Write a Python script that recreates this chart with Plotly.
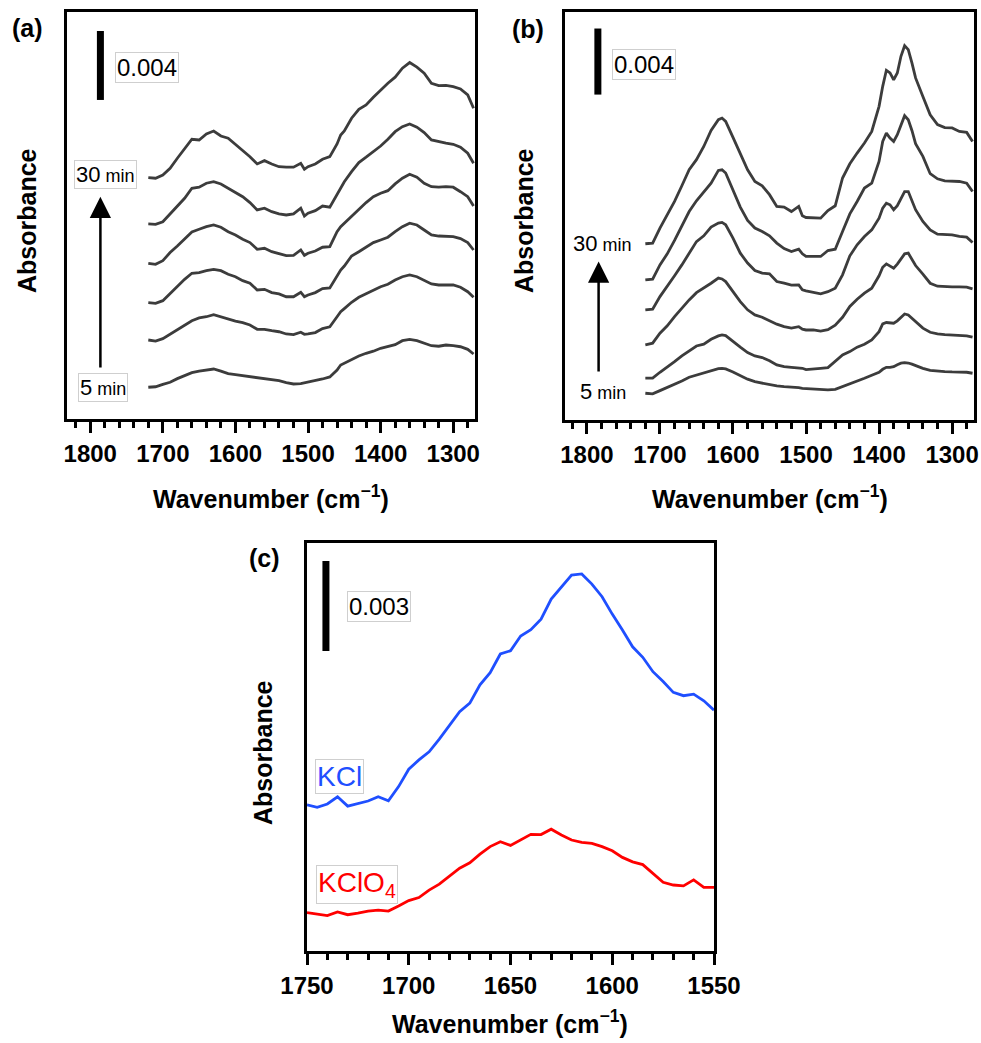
import plotly.graph_objects as go

# ---------------- data (absorbance in units of 1e-3) ----------------
wn_a = [1720, 1710, 1700, 1690, 1680, 1670, 1660, 1650, 1640, 1630, 1620, 1610, 1600, 1590, 1580,
        1570, 1560, 1550, 1540, 1530, 1520, 1510, 1505, 1500, 1490, 1480, 1470, 1460, 1455, 1450,
        1440, 1430, 1420, 1410, 1400, 1390, 1380, 1370, 1360, 1350, 1340, 1330, 1320, 1310, 1300,
        1290, 1280, 1272]
a_30min = [14.0, 13.96, 14.15, 14.54, 15.12, 15.64, 16.22, 16.18, 16.53, 16.70, 16.41, 16.28, 15.93, 15.60, 15.21,
           14.79, 14.98, 14.79, 14.63, 14.60, 14.60, 14.83, 14.48, 14.63, 14.79, 15.06, 15.21, 15.95, 16.47, 16.70,
           17.44, 17.96, 18.21, 18.66, 19.08, 19.47, 19.82, 20.34, 20.67, 20.40, 20.05, 19.47, 19.33, 19.35, 19.27,
           19.14, 18.79, 18.02]
a_25min = [11.31, 11.29, 11.44, 11.89, 12.35, 12.80, 13.38, 13.44, 13.67, 13.76, 13.63, 13.38, 13.18, 12.89, 12.55,
           12.12, 12.22, 12.02, 11.89, 11.83, 11.89, 12.22, 11.77, 11.93, 12.08, 12.35, 12.28, 13.05, 13.38, 13.76,
           14.34, 14.87, 15.18, 15.50, 15.83, 16.22, 16.66, 16.95, 17.11, 16.92, 16.61, 16.18, 16.07, 15.99, 15.93,
           15.76, 15.41, 14.83]
a_20min = [9.03, 8.97, 9.18, 9.65, 10.03, 10.42, 10.85, 11.00, 11.15, 11.25, 11.12, 10.86, 10.67, 10.42, 10.23,
           9.84, 9.90, 9.70, 9.57, 9.47, 9.49, 9.80, 9.49, 9.61, 9.74, 9.96, 9.99, 10.86, 11.15, 11.35,
           11.77, 12.18, 12.55, 12.89, 13.09, 13.24, 13.63, 13.96, 14.19, 14.02, 13.67, 13.47, 13.44, 13.47, 13.44,
           13.18, 12.89, 12.35]
a_15min = [6.75, 6.71, 6.86, 7.29, 7.67, 8.10, 8.45, 8.49, 8.60, 8.68, 8.60, 8.39, 8.25, 8.02, 7.87,
           7.48, 7.52, 7.33, 7.25, 7.09, 7.09, 7.35, 7.09, 7.19, 7.33, 7.56, 7.60, 8.35, 8.64, 8.87,
           9.45, 9.70, 9.96, 10.23, 10.38, 10.54, 10.86, 11.15, 11.35, 11.25, 10.96, 10.67, 10.61, 10.61, 10.57,
           10.46, 10.23, 9.80]
a_10min = [4.58, 4.52, 4.66, 4.93, 5.20, 5.45, 5.70, 5.86, 5.93, 6.05, 5.93, 5.78, 5.68, 5.59, 5.45,
           5.20, 5.20, 5.12, 5.06, 4.93, 4.89, 5.03, 4.91, 4.93, 5.01, 5.24, 5.35, 5.93, 6.22, 6.40,
           6.77, 7.06, 7.25, 7.44, 7.67, 7.81, 8.06, 8.25, 8.35, 8.25, 8.06, 7.83, 7.77, 7.77, 7.77,
           7.64, 7.38, 7.06]
a_5min = [1.84, 1.87, 2.01, 2.13, 2.34, 2.51, 2.69, 2.78, 2.86, 2.90, 2.78, 2.63, 2.57, 2.51, 2.45,
          2.40, 2.34, 2.28, 2.22, 2.11, 2.03, 2.05, 2.09, 2.13, 2.22, 2.32, 2.44, 2.84, 3.13, 3.23,
          3.46, 3.65, 3.81, 3.93, 4.10, 4.22, 4.31, 4.54, 4.62, 4.54, 4.39, 4.25, 4.22, 4.29, 4.25,
          4.19, 4.04, 3.77]

wn_b = [1720, 1710, 1700, 1690, 1680, 1670, 1660, 1650, 1640, 1630, 1620, 1615, 1610, 1600, 1590,
        1580, 1570, 1560, 1550, 1540, 1530, 1520, 1510, 1505, 1500, 1490, 1480, 1470, 1460, 1450,
        1440, 1430, 1420, 1410, 1400, 1395, 1390, 1385, 1380, 1375, 1370, 1365, 1360, 1355, 1350,
        1340, 1330, 1320, 1310, 1300, 1290, 1280, 1272]
b_30min = [10.67, 10.71, 11.62, 12.42, 13.23, 14.18, 15.15, 15.76, 16.56, 17.53, 18.18, 18.28, 18.08, 17.11, 16.12,
           15.15, 14.44, 14.18, 13.64, 12.93, 12.89, 12.62, 12.93, 12.36, 12.26, 12.26, 12.22, 12.68, 12.97, 14.65,
           15.51, 16.16, 16.77, 17.47, 18.99, 20.20, 21.17, 21.01, 20.60, 21.01, 22.02, 22.66, 22.42, 21.62, 20.71,
           19.59, 18.48, 17.88, 17.70, 17.68, 17.47, 17.41, 16.86]
b_25min = [8.48, 8.53, 9.39, 10.06, 10.87, 11.76, 12.62, 13.27, 13.83, 14.34, 15.11, 15.15, 14.95, 13.88, 12.89,
           12.08, 11.62, 11.41, 11.15, 10.71, 10.38, 10.20, 10.34, 10.06, 9.90, 9.90, 9.90, 10.26, 10.34, 11.41,
           12.48, 13.23, 14.04, 14.34, 15.65, 16.86, 17.37, 17.07, 16.86, 17.27, 17.82, 18.42, 18.18, 17.53, 16.73,
           15.96, 14.91, 14.60, 14.48, 14.44, 14.44, 14.34, 13.83]
b_20min = [6.67, 6.71, 7.47, 8.08, 8.73, 9.39, 10.14, 10.80, 11.15, 11.68, 11.92, 11.96, 11.82, 11.01, 10.10,
           9.50, 9.05, 8.89, 8.85, 8.38, 8.28, 8.16, 8.18, 7.88, 7.82, 7.71, 7.64, 7.77, 7.98, 8.79,
           9.94, 10.61, 11.11, 11.51, 12.22, 12.83, 13.13, 13.03, 12.73, 12.97, 13.43, 13.83, 13.83, 13.23, 12.73,
           12.02, 11.51, 11.25, 11.21, 11.21, 11.11, 11.07, 10.74]
b_15min = [4.55, 4.65, 5.25, 5.70, 6.26, 6.77, 7.27, 7.71, 7.98, 8.28, 8.59, 8.54, 8.38, 7.77, 7.17,
           6.67, 6.36, 6.22, 6.02, 5.80, 5.65, 5.56, 5.65, 5.50, 5.45, 5.45, 5.38, 5.47, 5.74, 6.22,
           6.87, 7.31, 7.68, 7.98, 8.73, 9.25, 9.45, 9.33, 9.19, 9.44, 9.74, 10.06, 10.10, 9.74, 9.35,
           8.83, 8.28, 8.10, 8.06, 8.06, 8.06, 8.04, 7.94]
b_10min = [2.53, 2.53, 2.89, 3.19, 3.53, 3.88, 4.20, 4.48, 4.59, 4.89, 5.09, 5.15, 5.11, 4.74, 4.41,
           4.08, 3.88, 3.78, 3.59, 3.33, 3.23, 3.19, 3.17, 3.13, 3.05, 3.07, 3.13, 3.17, 3.53, 3.94,
           4.14, 4.41, 4.59, 4.85, 5.35, 5.82, 5.90, 5.86, 5.86, 6.00, 6.22, 6.42, 6.36, 6.16, 5.92,
           5.56, 5.31, 5.21, 5.17, 5.15, 5.15, 5.09, 5.01]
b_5min = [1.62, 1.58, 1.78, 1.96, 2.16, 2.36, 2.59, 2.73, 2.87, 2.99, 3.11, 3.13, 3.09, 2.91, 2.67,
          2.47, 2.32, 2.22, 2.12, 2.06, 2.02, 2.00, 1.96, 1.92, 1.90, 1.90, 1.86, 1.82, 1.86, 2.02,
          2.22, 2.36, 2.53, 2.71, 2.89, 3.07, 3.19, 3.19, 3.23, 3.35, 3.44, 3.47, 3.45, 3.38, 3.29,
          3.13, 3.01, 2.95, 2.93, 2.91, 2.91, 2.89, 2.83]

wn_c = [1750, 1745, 1740, 1735, 1730, 1725, 1720, 1715, 1710, 1705, 1700, 1695, 1690, 1685,
        1680, 1675, 1670, 1665, 1660, 1655, 1650, 1645, 1640, 1635, 1630, 1625, 1620, 1615,
        1610, 1605, 1600, 1595, 1590, 1585, 1580, 1575, 1570, 1565, 1560, 1555, 1550]
c_kcl = [4.87, 4.79, 4.90, 5.14, 4.83, 4.92, 5.00, 5.14, 5.01, 5.48, 6.06, 6.37, 6.64, 7.06,
         7.53, 7.98, 8.26, 8.87, 9.28, 9.90, 10.01, 10.50, 10.71, 11.06, 11.73, 12.12, 12.53, 12.57,
         12.23, 11.81, 11.23, 10.70, 10.14, 9.79, 9.31, 8.98, 8.62, 8.51, 8.56, 8.34, 8.03]
c_kclo4 = [1.28, 1.23, 1.18, 1.30, 1.21, 1.26, 1.33, 1.36, 1.33, 1.50, 1.68, 1.78, 2.03, 2.23,
           2.50, 2.76, 2.94, 3.23, 3.48, 3.64, 3.52, 3.70, 3.89, 3.88, 4.06, 3.87, 3.70, 3.62,
           3.59, 3.48, 3.34, 3.12, 2.97, 2.88, 2.59, 2.29, 2.20, 2.17, 2.37, 2.12, 2.12]

scale_ab = 4.0   # 0.004
scale_c = 3.0    # 0.003

# ---------------- figure ----------------
FONT = "Liberation Sans, Arial, sans-serif"
W, H = 981, 1043
GRAY = "#3c3c3c"
BLUE = "#1f4fff"
RED = "#ff0000"

fig = go.Figure()

for ys in [a_5min, a_10min, a_15min, a_20min, a_25min, a_30min]:
    fig.add_trace(go.Scatter(x=wn_a, y=ys, mode="lines", xaxis="x", yaxis="y",
                             line=dict(color=GRAY, width=2.8), showlegend=False))
for ys in [b_5min, b_10min, b_15min, b_20min, b_25min, b_30min]:
    fig.add_trace(go.Scatter(x=wn_b, y=ys, mode="lines", xaxis="x2", yaxis="y2",
                             line=dict(color=GRAY, width=2.8), showlegend=False))
fig.add_trace(go.Scatter(x=wn_c, y=c_kcl, mode="lines", xaxis="x3", yaxis="y3",
                         line=dict(color=BLUE, width=2.8), showlegend=False))
fig.add_trace(go.Scatter(x=wn_c, y=c_kclo4, mode="lines", xaxis="x3", yaxis="y3",
                         line=dict(color=RED, width=2.8), showlegend=False))


def px(xp):
    return xp / W


def py(yp):
    return 1 - yp / H


tickfont = dict(family=FONT, size=24, color="black", weight="bold")


def xax(domain, anchor, rng, dtick, mdtick):
    return dict(domain=domain, anchor=anchor, range=rng, showline=True, linewidth=2.5,
                linecolor="black", mirror=True, ticks="outside", ticklen=11, tickwidth=2.5,
                tickcolor="black", dtick=dtick, tick0=0, showgrid=False, zeroline=False,
                tickfont=tickfont, automargin=False,
                minor=dict(ticks="outside", ticklen=6, tickwidth=2.5, tickcolor="black",
                           dtick=mdtick, tick0=0, showgrid=False))


def yax(domain, anchor, rng):
    return dict(domain=domain, anchor=anchor, range=rng, showline=True, linewidth=2.5,
                linecolor="black", mirror=True, ticks="", showticklabels=False,
                showgrid=False, zeroline=False, automargin=False)


fig.update_layout(
    template="none",
    width=W, height=H, margin=dict(l=0, r=0, t=0, b=0, pad=0, autoexpand=False),
    paper_bgcolor="white", plot_bgcolor="white",
    font=dict(family=FONT, color="black"),
    xaxis=xax([px(67), px(475)], "y", [1832, 1270], 100, 20),
    yaxis=yax([py(419), py(12)], "x", [0, 23.6]),
    xaxis2=xax([px(565), px(974)], "y2", [1830, 1270], 100, 20),
    yaxis2=yax([py(420), py(12)], "x2", [0, 24.7]),
    xaxis3=xax([px(307), px(714)], "y3", [1750, 1550], 50, 10),
    yaxis3=yax([py(951), py(543)], "x3", [0, 13.6]),
)

# scale bars
fig.add_shape(type="line", xref="x", yref="y", x0=1786, x1=1786, y0=18.5, y1=18.5 + scale_ab,
              line=dict(color="black", width=7))
fig.add_shape(type="line", xref="x2", yref="y2", x0=1785, x1=1785, y0=19.7, y1=19.7 + scale_ab,
              line=dict(color="black", width=7))
fig.add_shape(type="line", xref="x3", yref="y3", x0=1740.7, x1=1740.7, y0=10.0, y1=10.0 + scale_c,
              line=dict(color="black", width=7))

ann = []
title_font = dict(family=FONT, size=25, color="black", weight="bold")
# panel letters
for t, (xp, yp) in {"(a)": (27, 28), "(b)": (528, 29), "(c)": (264, 558)}.items():
    ann.append(dict(text=t, x=px(xp), y=py(yp), xref="paper", yref="paper", showarrow=False,
                    font=title_font, xanchor="center", yanchor="middle"))
# axis titles
for xp, yp in [(271, 497), (770, 497), (510, 1022)]:
    ann.append(dict(text="Wavenumber (cm<sup>\u22121</sup>)", x=px(xp), y=py(yp), xref="paper",
                    yref="paper", showarrow=False, font=title_font, xanchor="center", yanchor="middle"))
for xp, yp in [(27, 221), (524, 221), (263, 753)]:
    ann.append(dict(text="Absorbance", x=px(xp), y=py(yp), xref="paper", yref="paper",
                    showarrow=False, font=title_font, textangle=-90, xanchor="center", yanchor="middle"))

box = dict(bordercolor="#cfcfcf", borderwidth=1, borderpad=1, bgcolor="white")
lab_font = dict(family=FONT, size=24, color="black")
# scale labels
ann.append(dict(text="0.004", x=1721.5, y=20.36, xref="x", yref="y", showarrow=False,
                font=lab_font, **box))
ann.append(dict(text="0.004", x=1722, y=21.5, xref="x2", yref="y2", showarrow=False,
                font=lab_font, **box))
ann.append(dict(text="0.003", x=1714.6, y=11.5, xref="x3", yref="y3", showarrow=False,
                font=lab_font, **box))

# time labels
tfont = dict(family=FONT, size=22, color="black")
small = "<span style='font-size:18px'> min</span>"
ann.append(dict(text="30" + small, x=1779, y=14.2, xref="x", yref="y", showarrow=False,
                font=tfont, **box))
ann.append(dict(text="5" + small, x=1783, y=1.8, xref="x", yref="y", showarrow=False,
                font=tfont, **box))
ann.append(dict(text="30" + small, x=1778, y=10.67, xref="x2", yref="y2", showarrow=False,
                font=tfont))
ann.append(dict(text="5" + small, x=1778, y=1.7, xref="x2", yref="y2", showarrow=False,
                font=tfont))

# arrows
ann.append(dict(text="", x=1786, y=12.88, ax=1786, ay=2.9, xref="x", yref="y", axref="x",
                ayref="y", showarrow=True, arrowhead=2, arrowsize=1.7, arrowwidth=2.5,
                arrowcolor="black"))
ann.append(dict(text="", x=1784, y=9.6, ax=1784, ay=2.85, xref="x2", yref="y2", axref="x2",
                ayref="y2", showarrow=True, arrowhead=2, arrowsize=1.7, arrowwidth=2.5,
                arrowcolor="black"))

# salt labels
ann.append(dict(text="KCl", x=1733.8, y=5.83, xref="x3", yref="y3", showarrow=False,
                font=dict(family=FONT, size=28, color=BLUE), **box))
ann.append(dict(text="KClO<sub>4</sub>", x=1725.4, y=2.23, xref="x3", yref="y3", showarrow=False,
                font=dict(family=FONT, size=28, color=RED), **box))

fig.update_layout(annotations=ann)
fig.write_html("out.html")
